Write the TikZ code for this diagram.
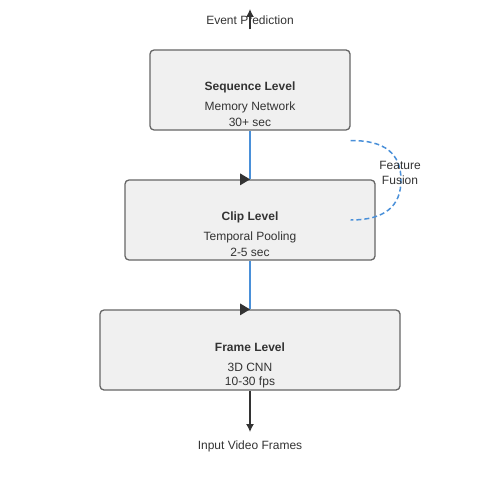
\documentclass[tikz,border=0pt]{standalone}
\usepackage{fontspec}
\setmainfont{Liberation Sans}
\usetikzlibrary{calc}
\usetikzlibrary{arrows.meta}

\definecolor{boxfill}{HTML}{F0F0F0}
\definecolor{boxline}{HTML}{666666}
\definecolor{textdark}{HTML}{333333}
\definecolor{flowblue}{HTML}{4A90D9}

\begin{document}
\begin{tikzpicture}[x=1pt, y=-1pt,
    levelbox/.style={draw=boxline, fill=boxfill, line width=1.3pt, rounded corners=4pt, inner sep=0pt},
    txt/.style={text=textdark, font=\fontsize{12}{14}\selectfont, inner sep=0pt},
    flow/.style={draw=flowblue, line width=1.3pt},
    outer/.style={draw=textdark, line width=1.3pt, -{Latex[length=8pt, width=8pt]}}]

        \useasboundingbox (0,0) rectangle (500,500);

        % Draw the three level boxes
        \node[levelbox, minimum width=200pt, minimum height=80pt] (seq) at (250,90) {};
        \node[levelbox, minimum width=250pt, minimum height=80pt] (clip) at (250,220) {};
        \node[levelbox, minimum width=300pt, minimum height=80pt] (frame) at (250,350) {};

        % Box texts
        \node[txt, font=\fontsize{12}{14}\selectfont\bfseries] (seqtitle) at ($(seq.center)+(0,-3)$) {Sequence Level};
        \node[txt] (seqa) at ($(seq.center)+(0,17.5)$) {Memory Network};
        \node[txt] (seqb) at ($(seq.center)+(0,32)$) {30+ sec};
        \node[txt, font=\fontsize{12}{14}\selectfont\bfseries] (cliptitle) at ($(clip.center)+(0,-3)$) {Clip Level};
        \node[txt] (clipa) at ($(clip.center)+(0,17.5)$) {Temporal Pooling};
        \node[txt] (clipb) at ($(clip.center)+(0,32)$) {2-5 sec};
        \node[txt, font=\fontsize{12}{14}\selectfont\bfseries] (frametitle) at ($(frame.center)+(0,-3)$) {Frame Level};
        \node[txt] (framea) at ($(frame.center)+(0,17.5)$) {3D CNN};
        \node[txt] (frameb) at ($(frame.center)+(0,32)$) {10-30 fps};

        % Input and output
        \coordinate (outtip) at (250,9);
        \coordinate (intip) at (250,432);
        \draw[outer] (seq.north) ++(0,-20) -- (outtip);
        \draw[outer] (frame.south) -- (intip);
        \node[txt] (outlabel) at (250,20.5) {Event Prediction};
        \node[txt] (inlabel) at (250,446) {Input Video Frames};

        % Blue links with their markers
        \draw[flow] (seq.south) -- (clip.north);
        \draw[flow] (clip.south) -- (frame.north);
        \fill[textdark] (clip.north) -- ++(-10,-6) -- ++(0,12) -- cycle;
        \fill[textdark] (frame.north) -- ++(-10,-6) -- ++(0,12) -- cycle;

        % Feature fusion loop
        \draw[flowblue, line width=1.5pt, dash pattern=on 5pt off 3pt] ($(seq.south east)+(0,10)$) .. controls (385,140) and (401,154) .. (401,180) .. controls (401,206) and (385,220) .. ($(clip.east)+(-25,0)$);
        \node[txt, align=center, font=\fontsize{12}{15}\selectfont] (fusion) at (400,173) {Feature\\Fusion};

    \end{tikzpicture}
\end{document}
